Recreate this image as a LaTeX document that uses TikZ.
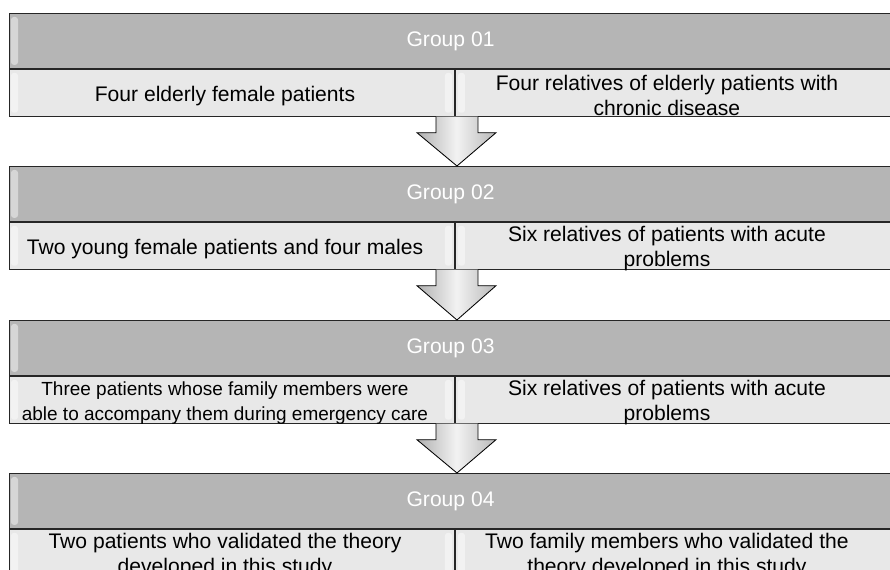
\documentclass[tikz,border=0pt]{standalone}
\usepackage{fontspec}
\setmainfont{Liberation Sans}
\usetikzlibrary{calc}
\begin{document}
\begin{tikzpicture}[x=0.025cm,y=-0.025cm]
        % Styles
        \tikzstyle{head box}=[draw=black!85,line width=0.6pt,fill=gray!58,minimum width=22.05cm,minimum height=1.375cm,inner sep=0pt,anchor=north west,text=white,font=\fontsize{15}{18}\selectfont]
        \tikzstyle{cell box}=[draw=black!85,line width=0.6pt,fill=gray!18,minimum height=1.175cm,inner sep=0pt,anchor=north west]
        \tikzstyle{cell text}=[align=center,inner sep=0pt]
        \tikzstyle{bevel}=[white,opacity=.45,rounded corners=2pt]
        \tikzstyle{block arrow}=[draw=black,line width=0.6pt,left color=gray!62,right color=gray!55,middle color=gray!10]
        \useasboundingbox (0,0) rectangle (890,570);
        %groups
        \foreach \i/\ytop/\lsize/\ltext/\rtext in {
            1/13/15/{Four elderly female patients}/{Four relatives of elderly patients with\\chronic disease},
            2/166/15/{Two young female patients and four males}/{Six relatives of patients with acute\\problems},
            3/320/13.5/{Three patients whose family members were\\able to accompany them during emergency care}/{Six relatives of patients with acute\\problems},
            4/473/15/{Two patients who validated the theory\\developed in this study}/{Two family members who validated the\\theory developed in this study}}
        {
            \node[head box] (head\i) at (9,\ytop) {Group 0\i};
            \node[cell box,minimum width=11.125cm] (left\i) at (head\i.south west) {};
            \node[cell box,minimum width=10.925cm] (right\i) at (left\i.north east) {};
            % bevels
            \fill[bevel] ($(head\i.north west)+(2,4)$) rectangle ($(head\i.south west)+(9,-4)$);
            \fill[bevel] ($(left\i.north west)+(2,4)$) rectangle ($(left\i.south west)+(9,-4)$);
            \fill[bevel] ($(left\i.north east)+(-10,4)$) rectangle ($(left\i.south east)+(-3,-4)$);
            \fill[bevel] ($(right\i.north west)+(3,4)$) rectangle ($(right\i.south west)+(10,-4)$);
            % texts
            \node[cell text,font=\fontsize{\lsize}{17.8}\selectfont] (ltext\i) at ($(left\i.center)+(-7,3)$) {\ltext};
            \node[cell text,font=\fontsize{15}{17.8}\selectfont] (rtext\i) at ($(right\i.center)+(-7,3)$) {\rtext};
        }
        %arrows
        \foreach \i [evaluate=\i as \j using int(\i+1)] in {1,2,3}
            \draw[block arrow] ($(left\i.south east)+(-19,0)$) -- ($(left\i.south east)+(-19,16)$)
                -- ($(left\i.south east)+(-38,16)$) -- ($(left\i.south east |- head\j.north)+(2,0)$)
                -- ($(left\i.south east)+(41,16)$) -- ($(left\i.south east)+(23,16)$)
                -- ($(left\i.south east)+(23,0)$);
\end{tikzpicture}
\end{document}
